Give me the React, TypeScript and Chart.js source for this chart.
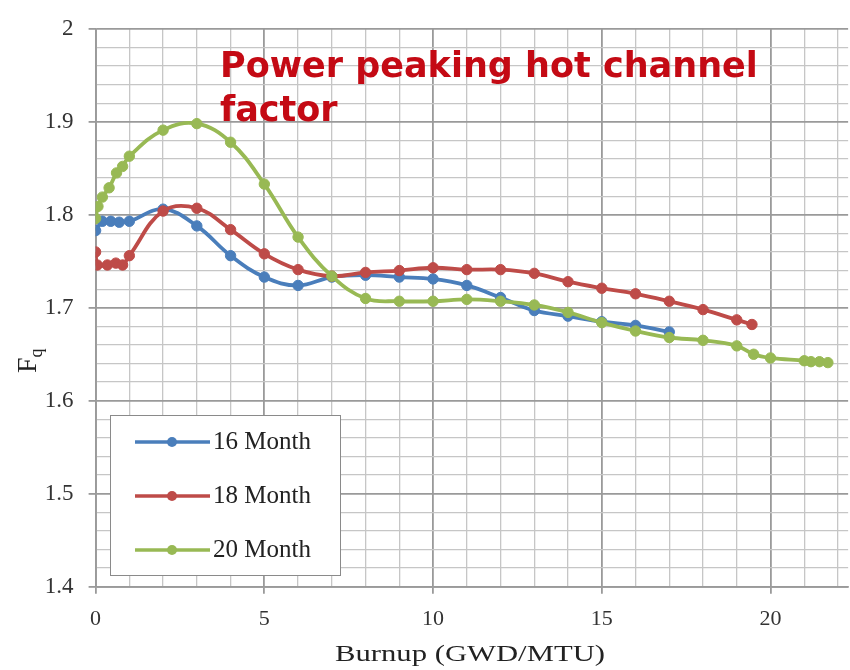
import { useEffect, useRef } from "react";
import Chart from "chart.js/auto";

// Burnup (GWD/MTU) and hot channel factor Fq for each cycle length
const burnup16 = [0, 0.2, 0.45, 0.7, 1.0, 2, 3, 4, 5, 6, 7, 8, 9, 10, 11, 12, 13, 14, 15, 16, 17];
const fq16 = [1.783, 1.793, 1.793, 1.792, 1.793, 1.806, 1.788, 1.756, 1.733, 1.724, 1.733, 1.735, 1.733, 1.731, 1.724, 1.711, 1.697, 1.691, 1.685, 1.681, 1.674];

const burnup18 = [0, 0.05, 0.35, 0.6, 0.8, 1.0, 2, 3, 4, 5, 6, 7, 8, 9, 10, 11, 12, 13, 14, 15, 16, 17, 18, 19, 19.45];
const fq18 = [1.760, 1.746, 1.746, 1.748, 1.746, 1.756, 1.804, 1.807, 1.784, 1.758, 1.741, 1.734, 1.738, 1.740, 1.743, 1.741, 1.741, 1.737, 1.728, 1.721, 1.715, 1.707, 1.698, 1.687, 1.682];

const burnup20 = [0, 0.07, 0.2, 0.4, 0.62, 0.8, 1.0, 2, 3, 4, 5, 6, 7, 8, 9, 10, 11, 12, 13, 14, 15, 16, 17, 18, 19, 19.5, 20, 21, 21.2, 21.45, 21.7];
const fq20 = [1.796, 1.809, 1.819, 1.829, 1.845, 1.852, 1.863, 1.891, 1.898, 1.878, 1.833, 1.776, 1.734, 1.710, 1.707, 1.707, 1.709, 1.707, 1.703, 1.695, 1.684, 1.675, 1.668, 1.665, 1.659, 1.650, 1.646, 1.643, 1.642, 1.642, 1.641];

const seriesLabels = ["16 Month", "18 Month", "20 Month"];
const seriesColors = ["#4A7EBB", "#BE4B48", "#98B954"];

const titleLines = ["Power peaking hot channel", "factor"];
const xAxisTitle = "Burnup (GWD/MTU)";
const yAxisMain = "F";
const yAxisSub = "q";

const SERIF = '"Liberation Serif", "Times New Roman", serif';
const MAJOR_GRID = "#9a9a9a";
const MINOR_GRID = "#c6c6c6";

const isMultiple = (v: number, step: number) => Math.abs(v / step - Math.round(v / step)) < 1e-6;

// Chart title, axis titles, and boxed legend inside the plot area
const overlayPlugin = {
  id: "overlay",
  afterDraw(chart: any) {
    const { ctx } = chart;
    ctx.save();

    // title
    ctx.fillStyle = "#C40A14";
    ctx.font = 'bold 35px "DejaVu Sans", sans-serif';
    ctx.textAlign = "left";
    ctx.textBaseline = "alphabetic";
    ctx.fillText(titleLines[0], 220, 77);
    ctx.fillText(titleLines[1], 220, 121);

    // x-axis title, set in a wide serif face
    ctx.save();
    ctx.font = `23px ${SERIF}`;
    ctx.fillStyle = "#222";
    const tw = ctx.measureText(xAxisTitle).width;
    const sx = 270 / tw;
    ctx.translate(470, 661);
    ctx.scale(sx, 1);
    ctx.textAlign = "center";
    ctx.fillText(xAxisTitle, 0, 0);
    ctx.restore();

    // y-axis title: F with subscript q, rotated
    ctx.save();
    ctx.translate(36, 373);
    ctx.rotate(-Math.PI / 2);
    ctx.fillStyle = "#222";
    ctx.font = `28px ${SERIF}`;
    ctx.fillText(yAxisMain, 0, 0);
    const fw = ctx.measureText(yAxisMain).width;
    ctx.font = `18px ${SERIF}`;
    ctx.fillText(yAxisSub, fw, 6);
    ctx.restore();

    // legend
    const lx = 110.5, ly = 415.5, lw = 230, lh = 160;
    ctx.fillStyle = "#ffffff";
    ctx.fillRect(lx, ly, lw, lh);
    ctx.strokeStyle = "#8a8a8a";
    ctx.lineWidth = 1;
    ctx.strokeRect(lx, ly, lw, lh);
    chart.data.datasets.forEach((ds: any, i: number) => {
      const cy = 442 + i * 54;
      ctx.strokeStyle = ds.borderColor;
      ctx.lineWidth = 3.5;
      ctx.beginPath();
      ctx.moveTo(135, cy);
      ctx.lineTo(210, cy);
      ctx.stroke();
      ctx.fillStyle = ds.borderColor;
      ctx.beginPath();
      ctx.arc(172, cy, 5, 0, Math.PI * 2);
      ctx.fill();
      ctx.fillStyle = "#222";
      ctx.font = `25px ${SERIF}`;
      ctx.textBaseline = "middle";
      ctx.fillText(ds.label, 213, cy);
    });

    ctx.restore();
  },
};

export default function App() {
  const canvasRef = useRef<HTMLCanvasElement>(null);

  useEffect(() => {
    const series = [
      [burnup16, fq16],
      [burnup18, fq18],
      [burnup20, fq20],
    ];
    const chart = new Chart(canvasRef.current!, {
      type: "line",
      data: {
        datasets: series.map(([xs, ys], i) => ({
          label: seriesLabels[i],
          data: xs.map((x, j) => ({ x, y: ys[j] })),
          borderColor: seriesColors[i],
          backgroundColor: seriesColors[i],
          pointBackgroundColor: seriesColors[i],
          pointBorderColor: seriesColors[i],
          borderWidth: 3.8,
          pointRadius: 5.2,
          pointBorderWidth: 1,
          tension: 0.4,
          fill: false,
          order: 3 - i,
        })),
      },
      options: {
        animation: false,
        responsive: true,
        maintainAspectRatio: false,
        layout: { autoPadding: false, padding: { top: 19.3, right: 0, left: 0, bottom: 0 } },
        plugins: {
          legend: { display: false },
          tooltip: { enabled: false },
          title: { display: false },
        },
        scales: {
          x: {
            type: "linear",
            min: 0,
            max: 22.3,
            afterFit: (s: any) => {
              s.height = 83.3;
            },
            ticks: {
              stepSize: 1,
              includeBounds: false,
              autoSkip: false,
              maxRotation: 0,
              padding: 12,
              color: "#333",
              font: { family: SERIF, size: 22 },
              callback: (v: any) => (isMultiple(Number(v), 5) ? String(Math.round(Number(v))) : ""),
            },
            grid: {
              color: (c: any) => (isMultiple(c.tick.value, 5) ? MAJOR_GRID : MINOR_GRID),
              lineWidth: (c: any) => (isMultiple(c.tick.value, 5) ? 1.8 : 1.3),
              tickColor: (c: any) => (isMultiple(c.tick.value, 5) ? MAJOR_GRID : "rgba(0,0,0,0)"),
              tickLength: 7,
            },
            border: { color: MAJOR_GRID, width: 1.8 },
          },
          y: {
            type: "linear",
            min: 1.4,
            max: 2.0,
            afterFit: (s: any) => {
              s.width = 95.6;
            },
            ticks: {
              stepSize: 0.02,
              autoSkip: false,
              padding: 15,
              color: "#333",
              font: { family: SERIF, size: 23 },
              callback: (v: any) => (isMultiple(Number(v), 0.1) ? String(Math.round(Number(v) * 10) / 10) : ""),
            },
            grid: {
              color: (c: any) => (isMultiple(c.tick.value, 0.1) ? MAJOR_GRID : MINOR_GRID),
              lineWidth: (c: any) => (isMultiple(c.tick.value, 0.1) ? 1.8 : 1.3),
              tickColor: (c: any) => (isMultiple(c.tick.value, 0.1) ? MAJOR_GRID : "rgba(0,0,0,0)"),
              tickLength: 7,
            },
            border: { color: MAJOR_GRID, width: 1.8 },
          },
        },
      },
      plugins: [overlayPlugin],
    });
    return () => chart.destroy();
  }, []);

  return (
    <div style={{ position: "absolute", left: 0, top: 0, width: 850, height: 670, background: "#fff" }}>
      <canvas ref={canvasRef} />
    </div>
  );
}
